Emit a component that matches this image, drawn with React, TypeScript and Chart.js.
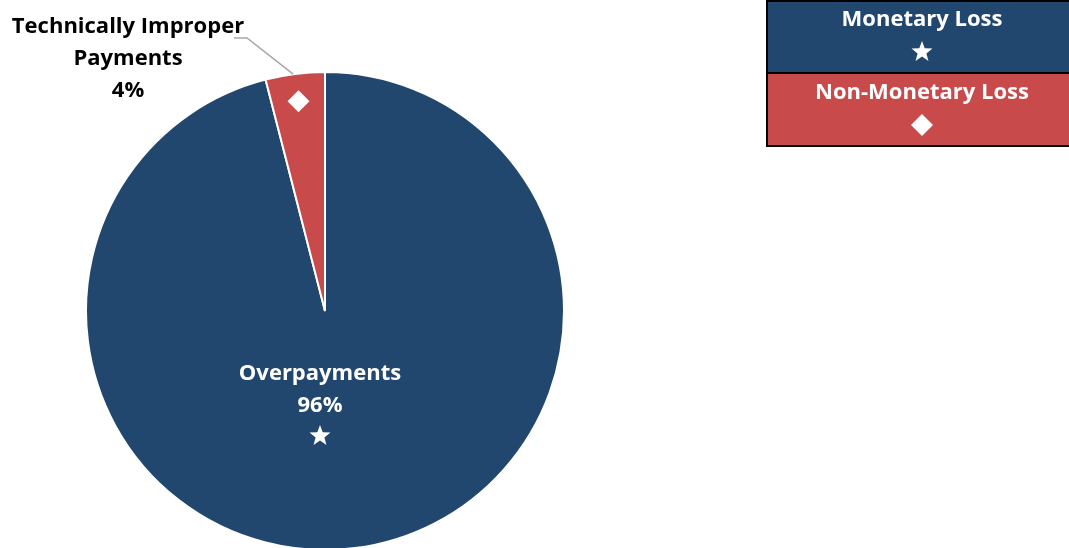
import React, { useEffect, useRef } from "react";
import { Chart, registerables } from "chart.js";

Chart.register(...registerables);

const categories = ["Overpayments", "Technically Improper Payments"];
const shares = [96, 4];
const sliceColors = ["#22476F", "#C84A4A"];
const legendLabels = ["Monetary Loss", "Non-Monetary Loss"];
const markers = ["star", "diamond"];

const FONT = "'Open Sans', sans-serif";

function drawStar(ctx: CanvasRenderingContext2D, x: number, y: number, r: number) {
  const inner = r * 0.42;
  ctx.beginPath();
  for (let i = 0; i < 10; i++) {
    const rad = i % 2 === 0 ? r : inner;
    const a = -Math.PI / 2 + (i * Math.PI) / 5;
    const px = x + rad * Math.cos(a);
    const py = y + rad * Math.sin(a);
    if (i === 0) ctx.moveTo(px, py);
    else ctx.lineTo(px, py);
  }
  ctx.closePath();
  ctx.fillStyle = "#ffffff";
  ctx.fill();
}

function drawDiamond(ctx: CanvasRenderingContext2D, x: number, y: number, r: number) {
  ctx.beginPath();
  ctx.moveTo(x, y - r);
  ctx.lineTo(x + r, y);
  ctx.lineTo(x, y + r);
  ctx.lineTo(x - r, y);
  ctx.closePath();
  ctx.fillStyle = "#ffffff";
  ctx.fill();
}

function drawMarker(ctx: CanvasRenderingContext2D, kind: string, x: number, y: number) {
  if (kind === "star") drawStar(ctx, x, y, 11);
  else drawDiamond(ctx, x, y, 11);
}

const overlayPlugin = {
  id: "overlay",
  afterDraw(chart: any) {
    const ctx: CanvasRenderingContext2D = chart.ctx;
    const meta = chart.getDatasetMeta(0);
    const blue = meta.data[0] as any;
    const red = meta.data[1] as any;
    ctx.save();
    ctx.textAlign = "center";
    ctx.textBaseline = "middle";
    ctx.font = `bold 22px ${FONT}`;

    // Overpayments label inside blue slice
    const cx = blue.x;
    const cy = blue.y;
    ctx.fillStyle = "#ffffff";
    ctx.fillText(categories[0], cx - 5, cy + 63);
    ctx.fillText(`${shares[0]}%`, cx - 5, cy + 95);
    drawMarker(ctx, markers[0], cx - 5, cy + 125);

    // Red slice marker
    const midR = (red.startAngle + red.endAngle) / 2;
    const rr = red.outerRadius;
    drawMarker(ctx, markers[1], cx + Math.cos(midR) * rr * 0.885, cy + Math.sin(midR) * rr * 0.885);

    // leader line
    const ex = cx + Math.cos(midR - 0.008) * rr;
    const ey = cy + Math.sin(midR - 0.008) * rr;
    ctx.strokeStyle = "#A6A6A6";
    ctx.lineWidth = 1.5;
    ctx.beginPath();
    ctx.moveTo(ex, ey);
    ctx.lineTo(247, 38);
    ctx.lineTo(234, 38);
    ctx.stroke();

    ctx.fillStyle = "#000000";
    ctx.fillText("Technically Improper", 128, 27);
    ctx.fillText("Payments", 128, 59);
    ctx.fillText(`${shares[1]}%`, 128, 91);

    // Legend box
    const lx = 767;
    const lw = 310;
    const rowH = 73;
    legendLabels.forEach((lab, i) => {
      ctx.fillStyle = sliceColors[i];
      ctx.fillRect(lx, i * rowH, lw, rowH);
    });
    ctx.strokeStyle = "#000000";
    ctx.lineWidth = 2;
    ctx.strokeRect(lx, 1, lw, rowH * 2 - 1);
    ctx.beginPath();
    ctx.moveTo(lx, rowH);
    ctx.lineTo(lx + lw, rowH);
    ctx.stroke();
    legendLabels.forEach((lab, i) => {
      ctx.fillStyle = "#ffffff";
      ctx.fillText(lab, 922, i * rowH + 20);
      drawMarker(ctx, markers[i], 922, i * rowH + 52);
    });
    ctx.restore();
  },
};

export default function App() {
  const ref = useRef<HTMLCanvasElement | null>(null);
  useEffect(() => {
    document.body.style.margin = "0";
    const canvas = ref.current;
    if (!canvas) return;
    const chart = new Chart(canvas, {
      type: "pie",
      data: {
        labels: categories,
        datasets: [
          {
            data: shares,
            backgroundColor: sliceColors,
            borderColor: "#ffffff",
            borderWidth: 2,
          },
        ],
      },
      options: {
        animation: false,
        responsive: false,
        maintainAspectRatio: false,
        layout: { padding: { left: 85, top: 71, right: 504, bottom: 0 } },
        plugins: {
          legend: { display: false },
          tooltip: { enabled: false },
        },
      },
      plugins: [overlayPlugin],
    });
    return () => chart.destroy();
  }, []);
  return (
    <div style={{ width: 1069, height: 548, position: "relative", overflow: "hidden" }}>
      <canvas ref={ref} width={1069} height={551} style={{ display: "block" }} />
    </div>
  );
}
